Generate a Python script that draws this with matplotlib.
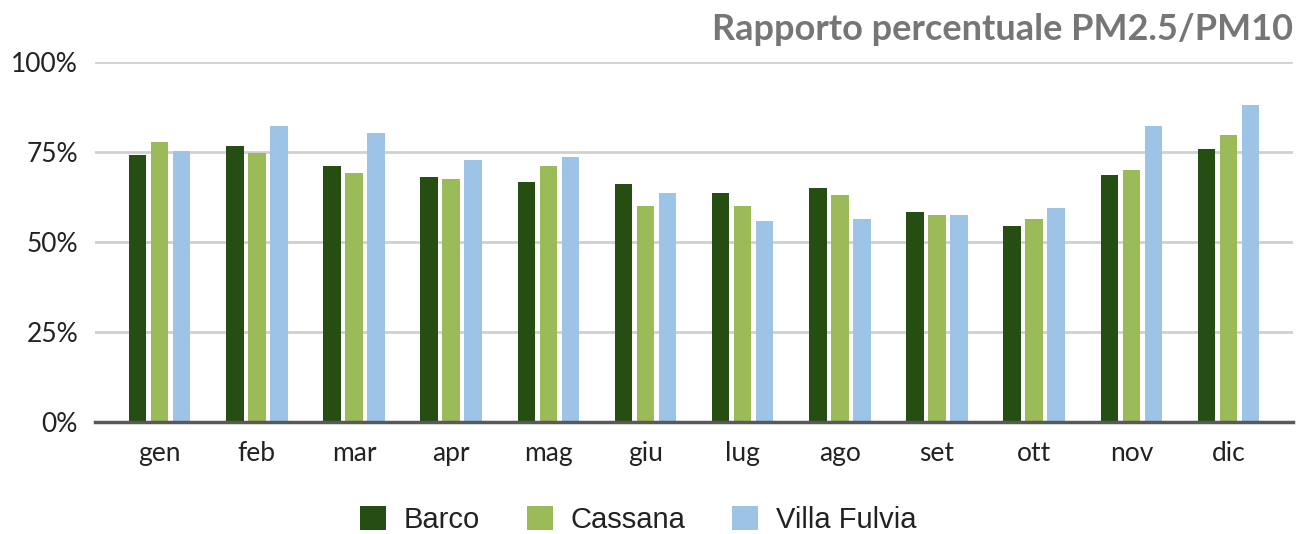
import matplotlib.pyplot as plt
import numpy as np

months = ["gen", "feb", "mar", "apr", "mag", "giu", "lug", "ago", "set", "ott", "nov", "dic"]
barco = [74.0, 76.5, 70.9, 67.9, 66.7, 66.0, 63.6, 64.8, 58.2, 54.4, 68.5, 75.8]
cassana = [77.6, 74.6, 69.1, 67.3, 70.9, 59.9, 59.9, 63.1, 57.5, 56.3, 69.8, 79.6]
villa_fulvia = [75.2, 82.0, 80.1, 72.8, 73.4, 63.6, 55.8, 56.3, 57.5, 59.4, 82.0, 88.1]

series = [
    ("Barco", barco, "#264d12"),
    ("Cassana", cassana, "#9bbb59"),
    ("Villa Fulvia", villa_fulvia, "#9dc3e6"),
]

plt.rcParams.update({"font.family": ["Lato", "DejaVu Sans"]})

fig = plt.figure(figsize=(13.1, 5.34), dpi=100)
ax = fig.add_axes([0.0723, 0.2103, 0.9145, 0.6742])

x = np.arange(len(months))
step = 0.226
width = 0.18
for i, (name, vals, color) in enumerate(series):
    ax.bar(x + (i - 1) * step, np.array(vals) / 100, width=width, color=color,
           label=name, zorder=3)

ax.set_xlim(-0.669, 11.661)
ax.set_ylim(0, 1)
ax.set_yticks([0, 0.25, 0.5, 0.75, 1.0])
ax.set_yticklabels(["0%", "25%", "50%", "75%", "100%"])
ax.set_xticks(x)
ax.set_xticklabels(months)
ax.tick_params(axis="both", length=0, labelsize=19, colors="#222222")
ax.tick_params(axis="y", pad=12)
ax.tick_params(axis="x", pad=14)
ax.grid(axis="y", color="#d0d0d0", linewidth=2, zorder=0)
for side in ["top", "right", "left"]:
    ax.spines[side].set_visible(False)
ax.spines["bottom"].set_color("#595959")
ax.spines["bottom"].set_linewidth(2.5)
ax.spines["bottom"].set_zorder(4)

fig.text(0.9868, 1 - 40 / 534, "Rapporto percentuale PM2.5/PM10", ha="right",
         va="baseline", fontsize=26, fontweight="bold", color="#767676")

fig.legend(loc="center", bbox_to_anchor=(638 / 1310, 1 - 520 / 534), ncol=3,
           frameon=False, handlelength=0.9, handleheight=0.9, handletextpad=0.6,
           columnspacing=1.6, prop={"family": ["Liberation Sans"], "size": 21},
           labelcolor="#222222")

fig.savefig("out.png", dpi=100)
